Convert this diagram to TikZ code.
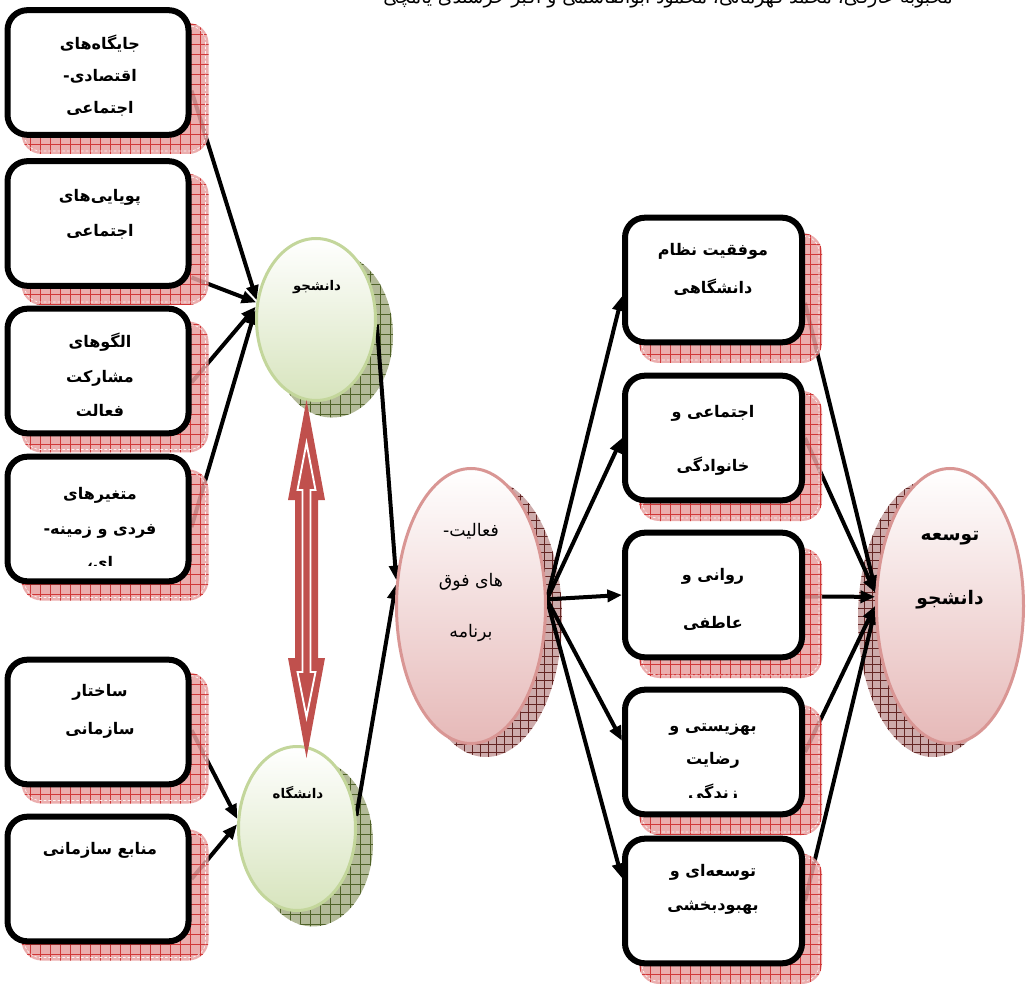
\documentclass[tikz,border=0pt]{standalone}
\usepackage{fontspec}
\usetikzlibrary{shapes.geometric,arrows.meta,patterns.meta}
\newfontfamily\arabicfont[Script=Arabic]{DejaVu Sans}
\TeXXeTstate=1
\newcommand{\fa}[1]{\beginR #1\endR}
\definecolor{boxshadow}{HTML}{E8A0A0}
\definecolor{boxgrid}{HTML}{CC2222}
\definecolor{grshadow}{HTML}{B3BA98}
\definecolor{grgrid}{HTML}{4F6228}
\definecolor{pkshadow}{HTML}{CDABAB}
\definecolor{pkgrid}{HTML}{632523}
\definecolor{grfill}{HTML}{D7E4BD}
\definecolor{grline}{HTML}{C3D69B}
\definecolor{pkfill}{HTML}{E6B9B8}
\definecolor{pkline}{HTML}{D99694}
\definecolor{arrred}{HTML}{C0504D}
\pgfdeclarelayer{bg}
\pgfdeclarelayer{shl}
\pgfsetlayers{bg,shl,main}
\newcommand\myshbox[4]{\path[boxsh] (#1-#3,#2-#4) rectangle (#1+#3,#2+#4);
  \path[shdash] (#1-#3+3,#2-#4+3) rectangle (#1+#3-3,#2+#4-3);}
\begin{document}
\begin{tikzpicture}[x=0.75pt,y=-0.75pt,
 box/.style={draw=black,line width=4.5pt,fill=white,rounded corners=15pt,minimum width=135.75pt,minimum height=93.5pt,inner sep=0pt},
 rbox/.style={box,minimum width=132.75pt},
 boxsh/.style={preaction={fill=boxshadow},pattern={Hatch[distance=7.5pt,angle=0,line width=0.5pt]},pattern color=boxgrid,rounded corners=15pt},
 shdash/.style={draw=white,line width=0.5pt,dash pattern=on 2pt off 1.5pt,rounded corners=12pt},
 grsh/.style={preaction={fill=grshadow},pattern={Hatch[distance=7.5pt,angle=0,line width=0.45pt]},pattern color=grgrid},
 pksh/.style={preaction={fill=pkshadow},pattern={Hatch[distance=6pt,angle=0,line width=0.4pt]},pattern color=pkgrid},
 gell/.style={ellipse,draw=grline,line width=2.25pt,top color=white,bottom color=grfill,inner sep=0pt},
 pell/.style={ellipse,draw=pkline,line width=2.25pt,top color=white,bottom color=pkfill,inner sep=0pt},
 conn/.style={line width=3pt,-{Triangle[length=11pt,width=9pt]}},
 txt/.style={font=\arabicfont\bfseries\fontsize{12}{#1}\selectfont,align=center,inner sep=0pt},
 rtxt/.style={font=\arabicfont\fontsize{13}{#1}\selectfont,align=center,inner sep=0pt},
]
\path[use as bounding box] (0,0) rectangle (1029,984);
\clip (0,0) rectangle (1029,984);

% ellipse shadows
\begin{pgfonlayer}{bg}
\path[grsh] (332,335) ellipse [x radius=45.75pt, y radius=61.9pt];
\path[grsh] (313,843) ellipse [x radius=45pt, y radius=62.6pt];
\path[pksh] (486,618) ellipse [x radius=57pt, y radius=104.25pt];
\path[pksh] (933,618) ellipse [x radius=56.25pt, y radius=104.25pt];
\end{pgfonlayer}

% box shadows
\begin{pgfonlayer}{shl}
\begin{scope}[opacity=0.85]
\myshbox{115}{88.5}{93.5}{65.5}
\myshbox{115}{239.5}{93.5}{65.5}
\myshbox{115}{387}{93.5}{65.5}
\myshbox{115}{535}{93.5}{65.5}
\myshbox{115}{738}{93.5}{65.5}
\myshbox{115}{895}{93.5}{65.5}
\myshbox{730.5}{298}{91.5}{65}
\myshbox{730.5}{456}{91.5}{65}
\myshbox{730.5}{613}{91.5}{65}
\myshbox{730.5}{770}{91.5}{65}
\myshbox{730.5}{919}{91.5}{65}
\end{scope}
\end{pgfonlayer}

% boxes
\node[box] (L1) at (98,72.5) {};
\node[box] (L2) at (98,223.5) {};
\node[box] (L3) at (98,371) {};
\node[box] (L4) at (98,519) {};
\node[box] (L5) at (98,722) {};
\node[box] (L6) at (98,879) {};
\node[rbox] (R1) at (713.5,280) {};
\node[rbox] (R2) at (713.5,438) {};
\node[rbox] (R3) at (713.5,595) {};
\node[rbox] (R4) at (713.5,752) {};
\node[rbox] (R5) at (713.5,901) {};

% ellipses
\node[gell,minimum width=89.25pt,minimum height=121.5pt] (S) at (316,319.5) {};
\node[gell,minimum width=87.75pt,minimum height=123pt] (U) at (297,828.5) {};
\node[pell,minimum width=111.75pt,minimum height=206.25pt] (X) at (471,606) {};
\node[pell,minimum width=110.25pt,minimum height=206.25pt] (D) at (950,606) {};

% connectors
\begin{pgfonlayer}{bg}
\draw[conn] (L1.-11) -- (S.162);
\draw[conn] (L2.-30) -- (S.164);
\draw[conn] (L3.-7) -- (S.168);
\draw[conn] (L4.-5) -- (S.171);
\draw[conn] (L5.-5) -- (U.171);
\draw[conn] (L6.east) -- (U.176);
\draw[conn] (S.-5) -- (X.161);
\draw[conn] (U.12) -- (X.164);
\coordinate (Xo) at (X.5);
\draw[conn] (Xo) -- (R1.190);
\draw[conn] (Xo) -- (R2.west);
\draw[conn] (Xo) -- (R3.west);
\draw[conn] (Xo) -- (R4.173);
\draw[conn] (Xo) -- (R5.166);
\draw[conn] (R1.-14) -- (D.168);
\draw[conn] (R2.east) -- (D.170);
\draw[conn] (R3.-1) -- (D.173);
\draw[conn] (R4.east) -- (D.180);
\draw[conn] (R5.east) -- (D.183);
\end{pgfonlayer}

% red double arrow between S and U
\path[fill=arrred] (306.5,400) -- (325,500) -- (318,500) -- (318,658) -- (325,658) -- (306.5,758)
  -- (288,658) -- (295,658) -- (295,500) -- (288,500) -- cycle;
\path[draw=white,fill=arrred,line width=1.4pt] (306.5,443) -- (315.5,490) -- (310.5,490) -- (310.5,672)
  -- (315.5,672) -- (306.5,717) -- (297.5,672) -- (302.5,672) -- (302.5,490) -- (297.5,490) -- cycle;

% texts
\node[font=\arabicfont\fontsize{14}{16}\selectfont,inner sep=0pt] (hdr) at (668,-1) {\fa{محبوبه عارفی، محمد قهرمانی، محمود ابوالقاسمی و اکبر خرسندی یامچی}};
\node[txt=24] (tL1) at (100,76) {\fa{جایگاه^^^^200cهای}\\\fa{اقتصادی-}\\\fa{اجتماعی}};
\node[txt=26] (tL2) at (100,214.5) {\fa{پویایی^^^^200cهای}\\\fa{اجتماعی}};
\node[txt=26] (tL3) at (100,375) {\fa{الگوهای}\\\fa{مشارکت}\\\fa{فعالت}};
\begin{scope}
\clip (5,453) rectangle (192,565);
\node[txt=26] (tL4) at (100,529) {\fa{متغیرهای}\\\fa{فردی و زمینه-}\\\fa{ای،}};
\end{scope}
\node[txt=28.5] (tL5) at (100,711) {\fa{ساختار}\\\fa{سازمانی}};
\node[txt=24] (tL6) at (100,850) {\fa{منابع سازمانی}};
\node[font=\arabicfont\bfseries\fontsize{10}{12}\selectfont,inner sep=0pt] (tS) at (317,287) {\fa{دانشجو}};
\node[font=\arabicfont\bfseries\fontsize{10}{12}\selectfont,inner sep=0pt] (tU) at (298,793) {\fa{دانشگاه}};
\node[rtxt=38] (tX) at (471,582.5) {\fa{فعالیت-}\\\fa{های فوق}\\\fa{برنامه}};
\node[font=\arabicfont\bfseries\fontsize{14}{48}\selectfont,align=center,inner sep=0pt] (tD) at (950,570) {\fa{توسعه}\\\fa{دانشجو}};
\node[txt=28.5] (tR1) at (713,269) {\fa{موفقیت نظام}\\\fa{دانشگاهی}};
\node[txt=40.5] (tR2) at (713,440) {\fa{اجتماعی و}\\\fa{خانوادگی}};
\node[txt=36] (tR3) at (713,599) {\fa{روانی و}\\\fa{عاطفی}};
\begin{scope}
\clip (625,690) rectangle (802,797);
\node[txt=25] (tR4) at (713,763) {\fa{بهزیستی و}\\\fa{رضایت}\\\fa{زندگی}};
\end{scope}
\node[txt=26] (tR5) at (713,889.5) {\fa{توسعه^^^^200cای و}\\\fa{بهبودبخشی}};
\end{tikzpicture}
\end{document}
